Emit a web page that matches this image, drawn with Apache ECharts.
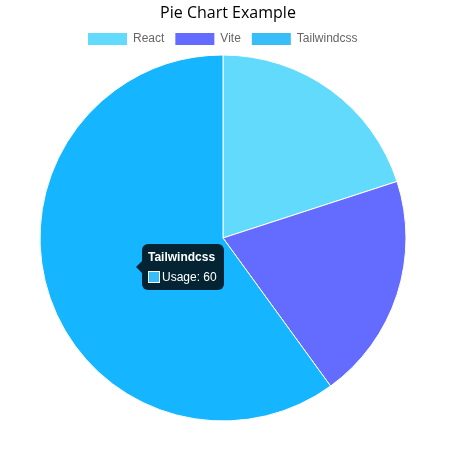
<!DOCTYPE html>
<html>
<head>
<meta charset="utf-8">
<script src="https://cdn.jsdelivr.net/npm/echarts@6/dist/echarts.min.js"></script>
<style>
html,body{margin:0;padding:0;background:#fff;}
#chart{width:458px;height:452px;}
</style>
</head>
<body>
<div id="chart"></div>
<script>
const categories = ['React', 'Vite', 'Tailwindcss'];
const usage = [20, 20, 60];
const sliceColors = ['#61DAFB', '#646CFF', '#15B6FF'];
const legendColors = ['#61DAFB', '#646CFF', '#38BDF8'];
const seriesName = 'Usage';

const chart = echarts.init(document.getElementById('chart'));
const option = {
  animation: false,
  title: {
    text: 'Pie Chart Example',
    left: 223, top: 0, textAlign: 'center',
    textStyle: { fontFamily: 'Open Sans', fontSize: 16, fontWeight: 'normal', color: '#000' }
  },
  legend: {
    top: 33, left: 88, padding: 0,
    itemWidth: 39, itemHeight: 12, itemGap: 11,
    icon: 'rect',
    textStyle: { fontFamily: 'Liberation Sans', fontSize: 12, color: '#666', padding: [0,0,0,1] },
    data: categories.map((c, i) => ({ name: c, itemStyle: { color: legendColors[i], borderWidth: 0 } }))
  },
  tooltip: {
    trigger: 'item',
    triggerOn: 'none',
    alwaysShowContent: true,
    position: function () { return [142, 244]; },
    backgroundColor: 'rgba(0,0,0,0.8)',
    borderWidth: 0,
    padding: [6, 7, 6, 6],
    extraCssText: 'border-radius:6px;box-shadow:none;',
    formatter: function (p) {
      return '<div style="position:absolute;left:-6px;top:50%;margin-top:-6px;width:0;height:0;border-top:6px solid transparent;border-bottom:6px solid transparent;border-right:6px solid rgba(0,0,0,0.8)"></div>' +
        '<div style="font-family:Liberation Sans;font-weight:bold;font-size:12px;color:#fff;line-height:14px;margin-bottom:6px">' + p.name + '</div>' +
        '<div style="font-family:Liberation Sans;font-size:12px;color:#fff;line-height:14px;white-space:nowrap">' +
        '<span style="display:inline-block;box-sizing:border-box;width:12px;height:12px;border:1px solid #fff;background:' + legendColors[p.dataIndex] + ';margin-right:2px;vertical-align:-2px"></span>' +
        p.seriesName + ': ' + p.value + '</div>';
    }
  },
  series: [{
    name: seriesName,
    type: 'pie',
    center: [223, 238],
    radius: 183,
    startAngle: 90,
    clockwise: true,
    label: { show: false },
    labelLine: { show: false },
    emphasis: { disabled: true },
    itemStyle: { borderColor: '#fff', borderWidth: 1 },
    data: categories.map((c, i) => ({ name: c, value: usage[i], itemStyle: { color: sliceColors[i] } }))
  }]
};
chart.setOption(option);
chart.dispatchAction({ type: 'showTip', seriesIndex: 0, dataIndex: 2 });
</script>
</body>
</html>
